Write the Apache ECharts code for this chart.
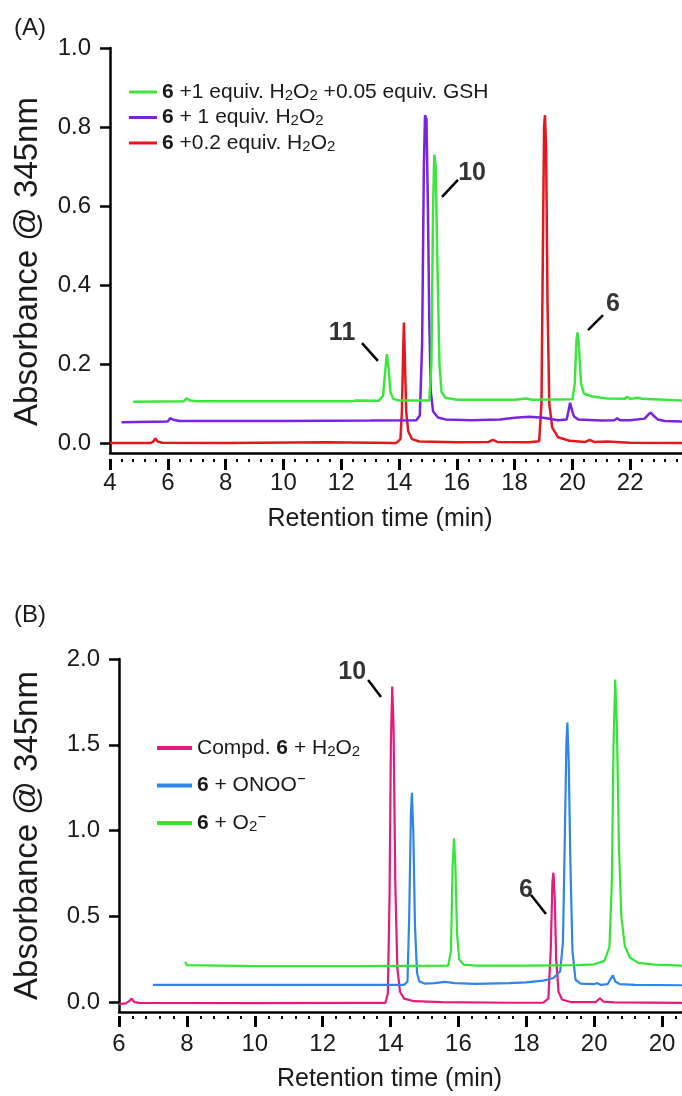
<!DOCTYPE html>
<html>
<head>
<meta charset="utf-8">
<script src="https://cdn.jsdelivr.net/npm/echarts@6/dist/echarts.min.js"></script>
<style>
html,body{margin:0;padding:0;background:#fff;}
#chart{width:682px;height:1096px;}
</style>
</head>
<body>
<div id="chart"></div>
<script>
// ---------- Panel A data (retention time [min], absorbance) ----------
const greenA = [[4.8,0.105],[6.55,0.106],[6.65,0.113],[6.7,0.117],[6.78,0.108],[7.0,0.106],[12.4,0.106],[12.5,0.108],[13.3,0.107],[13.45,0.12],[13.52,0.18],[13.58,0.225],[13.64,0.19],[13.7,0.13],[13.8,0.112],[14.0,0.108],[15.05,0.108],[15.12,0.2],[15.18,0.6],[15.22,0.73],[15.27,0.7],[15.33,0.45],[15.4,0.2],[15.47,0.13],[15.6,0.115],[16.0,0.11],[18.0,0.11],[18.4,0.113],[18.6,0.11],[20.0,0.111],[20.08,0.15],[20.14,0.26],[20.18,0.28],[20.23,0.24],[20.3,0.15],[20.4,0.125],[20.7,0.118],[21.2,0.113],[21.8,0.112],[21.9,0.117],[22.0,0.112],[22.3,0.115],[22.4,0.112],[23.8,0.108]];
const purpleA = [[4.4,0.053],[6.0,0.055],[6.08,0.063],[6.13,0.068],[6.2,0.059],[6.4,0.056],[10,0.056],[13,0.057],[14.6,0.058],[14.72,0.07],[14.8,0.25],[14.86,0.7],[14.9,0.83],[14.95,0.82],[15.0,0.6],[15.05,0.3],[15.1,0.13],[15.18,0.08],[15.35,0.065],[15.6,0.06],[16.5,0.058],[17.5,0.06],[18.0,0.064],[18.5,0.067],[19.0,0.064],[19.5,0.058],[19.8,0.06],[19.86,0.08],[19.92,0.102],[19.98,0.085],[20.05,0.068],[20.2,0.06],[21.0,0.057],[21.45,0.058],[21.55,0.063],[21.65,0.058],[22.0,0.058],[22.5,0.062],[22.65,0.074],[22.72,0.077],[22.8,0.07],[22.95,0.06],[23.2,0.056],[23.8,0.055]];
const redA = [[4.0,0.0],[5.4,0.0],[5.5,0.004],[5.57,0.012],[5.65,0.004],[5.8,0.001],[8,0.0],[11.5,0.002],[13.9,0.0],[14.05,0.01],[14.1,0.08],[14.14,0.22],[14.17,0.305],[14.2,0.22],[14.25,0.08],[14.32,0.03],[14.45,0.01],[14.7,0.004],[16.0,0.002],[17.1,0.003],[17.25,0.008],[17.4,0.003],[18.5,0.002],[18.85,0.005],[18.93,0.1],[18.98,0.5],[19.02,0.8],[19.05,0.83],[19.09,0.75],[19.14,0.35],[19.2,0.1],[19.3,0.04],[19.5,0.015],[19.9,0.006],[20.45,0.003],[20.6,0.008],[20.75,0.003],[21.2,0.004],[22,0.001],[23.8,0.0]];

// ---------- Panel B data ----------
const magentaB = [[6.0,-0.012],[6.2,-0.008],[6.3,0.005],[6.37,0.02],[6.45,0.0],[6.6,-0.005],[10,-0.006],[13.0,-0.005],[13.85,-0.005],[13.92,0.05],[13.97,0.6],[14.01,1.5],[14.05,1.84],[14.09,1.6],[14.14,0.7],[14.2,0.2],[14.28,0.06],[14.4,0.02],[14.7,0.005],[15.5,0.0],[17.5,-0.004],[18.5,-0.003],[18.65,0.02],[18.72,0.3],[18.77,0.7],[18.8,0.754],[18.84,0.6],[18.88,0.25],[18.95,0.06],[19.05,0.015],[19.3,0.0],[20.05,0.0],[20.17,0.022],[20.28,0.002],[20.6,-0.002],[22.6,-0.005]];
const blueB = [[7.0,0.1],[10,0.1],[14.4,0.1],[14.5,0.12],[14.55,0.5],[14.6,1.1],[14.63,1.22],[14.67,1.0],[14.72,0.45],[14.78,0.17],[14.85,0.12],[15.0,0.108],[15.3,0.11],[15.6,0.118],[15.9,0.11],[16.5,0.106],[17.5,0.11],[18.0,0.115],[18.5,0.125],[18.8,0.14],[19.0,0.18],[19.08,0.35],[19.13,0.9],[19.18,1.5],[19.21,1.63],[19.25,1.4],[19.3,0.8],[19.36,0.3],[19.45,0.13],[19.6,0.108],[20.0,0.105],[20.1,0.11],[20.2,0.1],[20.4,0.105],[20.5,0.14],[20.55,0.155],[20.62,0.12],[20.75,0.105],[21.2,0.1],[22.6,0.098]];
const greenB = [[7.95,0.235],[8.0,0.215],[10,0.21],[13,0.21],[15.7,0.212],[15.78,0.3],[15.83,0.8],[15.87,0.955],[15.91,0.8],[15.96,0.4],[16.02,0.25],[16.15,0.218],[16.5,0.212],[18.0,0.212],[19.5,0.215],[20.0,0.22],[20.3,0.24],[20.45,0.32],[20.52,0.7],[20.57,1.5],[20.62,1.88],[20.67,1.6],[20.73,0.9],[20.8,0.5],[20.9,0.33],[21.05,0.26],[21.3,0.228],[21.8,0.218],[22.6,0.212]];

// ---------- tick labels ----------
const yTicksA = [0, 0.2, 0.4, 0.6, 0.8, 1.0];
const yTicksB = [0, 0.5, 1.0, 1.5, 2.0];
const xTickLabelsB = ['6','8','10','12','14','16','18','20','20'];

// ---------- series names / legend labels ----------
const namesA = ['6 +1 equiv. H2O2 +0.05 equiv. GSH', '6 + 1 equiv. H2O2', '6 +0.2 equiv. H2O2'];
const namesB = ['Compd. 6 + H2O2', '6 + ONOO⁻', '6 + O2⁻'];
const legendRich = {
  '6 +1 equiv. H2O2 +0.05 equiv. GSH': '{b|6} +1 equiv. H{s|2}O{s|2} +0.05 equiv. GSH',
  '6 + 1 equiv. H2O2': '{b|6} + 1 equiv. H{s|2}O{s|2}',
  '6 +0.2 equiv. H2O2': '{b|6} +0.2 equiv. H{s|2}O{s|2}',
  'Compd. 6 + H2O2': 'Compd. {b|6} + H{s|2}O{s|2}',
  '6 + ONOO⁻': '{b|6} + ONOO{p|⁻}',
  '6 + O2⁻': '{b|6} + O{s|2}{p|⁻}'
};

// ---------- peak annotations (data units) ----------
const peakLabelsA = [[12.03,0.278,'11'],[16.53,0.684,'10'],[21.4,0.352,'6']];
const peakLinesA = [[[12.72,0.253],[13.27,0.208]],[[15.49,0.623],[16.04,0.666]],[[20.54,0.286],[21.06,0.324]]];
const peakLabelsB = [[12.87,1.924,'10'],[17.99,0.653,'6']];
const peakLinesB = [[[13.34,1.878],[13.72,1.778]],[[18.14,0.624],[18.58,0.513]]];

const colorsA = ['#3de63d', '#7a22e2', '#e4161e'];
const colorsB = ['#e6197c', '#2f86e8', '#33e633'];

const FONT = '"Liberation Sans", Arial, Helvetica, "DejaVu Sans", sans-serif';
const TXT = '#1a1a1a';

const chart = echarts.init(document.getElementById('chart'), null, {renderer: 'canvas'});

function richStyle(fs) {
  return {
    b: {fontWeight: 'bold', fontSize: fs, lineHeight: 22, fontFamily: FONT, color: TXT},
    s: {fontSize: Math.round(fs * 0.7), verticalAlign: 'bottom', lineHeight: 12, fontFamily: FONT, color: TXT},
    p: {fontSize: 18, fontWeight: 'bold', verticalAlign: 'top', lineHeight: 8, fontFamily: FONT, color: TXT}
  };
}

function yAxisCfg(gridIndex, min, max, ticks, gap, pad) {
  return {
    type: 'value', gridIndex: gridIndex, min: min, max: max,
    name: 'Absorbance @ 345nm', nameLocation: 'middle', nameGap: gap,
    nameTextStyle: {fontSize: 33, fontFamily: FONT, color: TXT, padding: pad},
    axisLine: {show: true, lineStyle: {color: '#000', width: 2.5}},
    axisTick: {show: true, customValues: ticks, length: 10, lineStyle: {color: '#000', width: 2.5}},
    axisLabel: {customValues: ticks, fontSize: 24, fontFamily: FONT, color: TXT, margin: 19,
      formatter: v => v.toFixed(1)},
    splitLine: {show: false}
  };
}

function frameAxis(gridIndex, min, max) {
  return {
    type: 'value', gridIndex: gridIndex, min: min, max: max, position: 'bottom',
    axisLine: {show: true, onZero: false, lineStyle: {color: '#000', width: 2.5}},
    axisTick: {show: false}, axisLabel: {show: false}, splitLine: {show: false}
  };
}

function tickAxis(gridIndex, min, max, offset, margin, nameGap, namePad, formatter) {
  return {
    type: 'value', gridIndex: gridIndex, min: min, max: max, interval: 2, position: 'bottom', offset: offset,
    name: 'Retention time (min)', nameLocation: 'middle', nameGap: nameGap,
    nameTextStyle: {fontSize: 25, fontFamily: FONT, color: TXT, padding: namePad},
    axisLine: {show: false, onZero: false},
    axisTick: {show: true, length: 11, lineStyle: {color: '#000', width: 3}},
    minorTick: {show: true, splitNumber: 5, length: 3, lineStyle: {color: '#000', width: 2}},
    axisLabel: {fontSize: 24, fontFamily: FONT, color: TXT, margin: margin, formatter: formatter,
      showMaxLabel: false},
    splitLine: {show: false}
  };
}

function traceSeries(name, data, color, xAxisIndex, yAxisIndex, width) {
  return {
    name: name, type: 'line', data: data, xAxisIndex: xAxisIndex, yAxisIndex: yAxisIndex,
    showSymbol: false, symbol: 'none', color: color, itemStyle: {color: color},
    lineStyle: {color: color, width: width}, animation: false, z: 3
  };
}

function annotSeries(labels, lines, xAxisIndex, yAxisIndex) {
  return {
    type: 'scatter', xAxisIndex: xAxisIndex, yAxisIndex: yAxisIndex, symbolSize: 0,
    data: labels, animation: false, silent: true, z: 5,
    label: {show: true, position: 'inside', formatter: p => p.data[2],
      fontSize: 25, fontWeight: 'bold', fontFamily: FONT, color: '#000'},
    markLine: {
      silent: true, animation: false, symbol: 'none',
      lineStyle: {color: '#000', width: 2.5, type: 'solid'},
      label: {show: false},
      data: lines.map(seg => [{coord: seg[0]}, {coord: seg[1]}])
    }
  };
}

const option = {
  backgroundColor: '#fff',
  animation: false,
  title: [
    {text: '(A)', left: 9, top: 11, textStyle: {fontSize: 24, fontWeight: 'normal', fontFamily: FONT, color: TXT}},
    {text: '(B)', left: 9, top: 598, textStyle: {fontSize: 24, fontWeight: 'normal', fontFamily: FONT, color: TXT}}
  ],
  grid: [
    {left: 110, top: 48, width: 578, height: 405, outerBoundsMode: 'none', containLabel: false},
    {left: 119, top: 659, width: 577, height: 353, outerBoundsMode: 'none', containLabel: false}
  ],
  legend: [
    {data: namesA, orient: 'vertical', left: 124, top: 76, itemWidth: 28, itemHeight: 3, itemGap: 3.5,
     icon: 'rect', selectedMode: false,
     formatter: n => legendRich[n],
     textStyle: {fontSize: 21, lineHeight: 22, fontFamily: FONT, color: TXT, rich: richStyle(21)}},
    {data: namesB, orient: 'vertical', left: 152, top: 732, itemWidth: 35, itemHeight: 4, itemGap: 15.5,
     icon: 'rect', selectedMode: false,
     formatter: n => legendRich[n],
     textStyle: {fontSize: 21, lineHeight: 22, fontFamily: FONT, color: TXT, rich: richStyle(21)}}
  ],
  xAxis: [
    frameAxis(0, 4, 24),
    tickAxis(0, 4, 24, 6, 12, 48, [0, 38, 0, 0], v => String(v)),
    frameAxis(1, 6, 23),
    tickAxis(1, 6, 23, 4, 16, 51, [0, 36, 0, 0], v => xTickLabelsB[Math.round((v - 6) / 2)] || '')
  ],
  yAxis: [
    yAxisCfg(0, -0.025, 1.0, yTicksA, 66, [0, 22, 0, 0]),
    yAxisCfg(1, -0.058, 2.0, yTicksB, 75, 0)
  ],
  series: [
    traceSeries(namesA[2], redA, colorsA[2], 1, 0, 2.5),
    traceSeries(namesA[1], purpleA, colorsA[1], 1, 0, 2.5),
    traceSeries(namesA[0], greenA, colorsA[0], 1, 0, 2.5),
    traceSeries(namesB[0], magentaB, colorsB[0], 3, 1, 2.2),
    traceSeries(namesB[1], blueB, colorsB[1], 3, 1, 2.2),
    traceSeries(namesB[2], greenB, colorsB[2], 3, 1, 2.2),
    annotSeries(peakLabelsA, peakLinesA, 1, 0),
    annotSeries(peakLabelsB, peakLinesB, 3, 1)
  ]
};
chart.setOption(option);
</script>
</body>
</html>
